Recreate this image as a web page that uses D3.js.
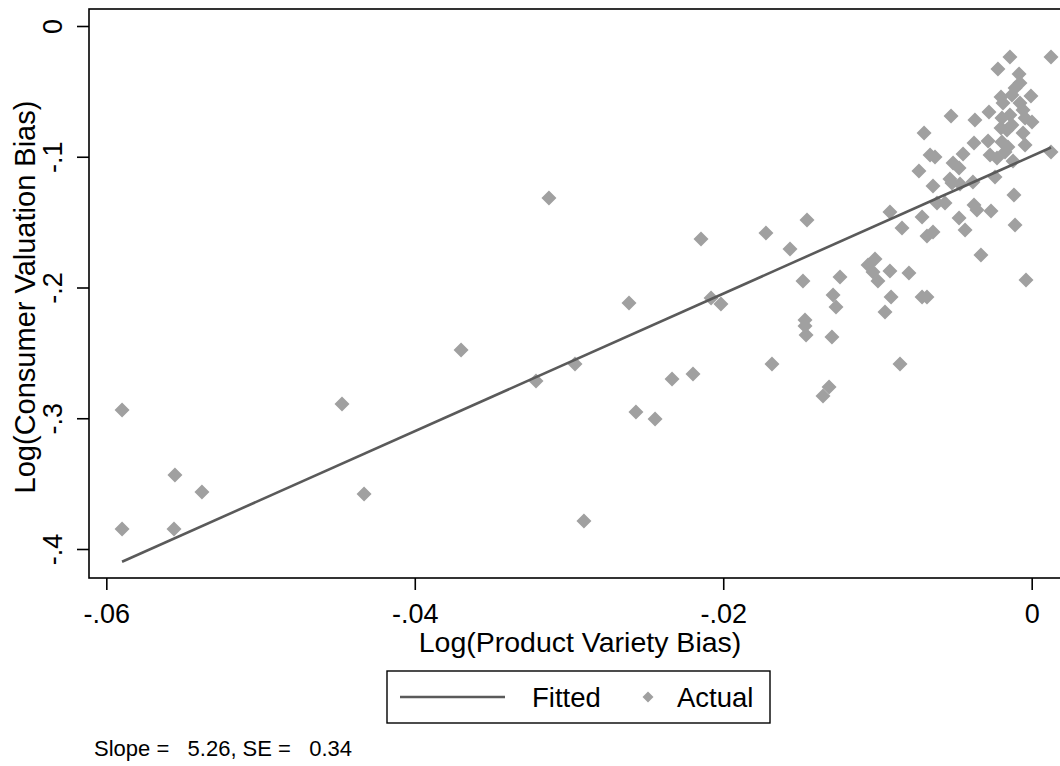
<!DOCTYPE html>
<html>
<head>
<meta charset="utf-8">
<script src="https://cdn.jsdelivr.net/npm/d3@7/dist/d3.min.js"></script>
<style>
  html, body { margin: 0; padding: 0; background: #fff; }
  svg { display: block; font-family: "Liberation Sans", Arial, Helvetica, sans-serif; }
</style>
</head>
<body>
<svg id="chart" width="1060" height="766"></svg>
<script>
// ---- data ----
const productVarietyBias = [
  -0.05898, -0.05898, -0.05555, -0.05561, -0.05380, -0.04472, -0.04329, -0.03700, -0.03214, -0.03130,
  -0.02961, -0.02903, -0.02566, -0.02442, -0.02611, -0.02332, -0.02196, -0.02144, -0.02079, -0.02015,
  -0.01723, -0.01684, -0.01567, -0.01457, -0.01483, -0.01470, -0.01470, -0.01463, -0.01295, -0.01243,
  -0.01288, -0.01269, -0.01314, -0.01353, -0.01061, -0.01016, -0.01029, -0.00997, -0.00919, -0.00912,
  -0.00951, -0.00919, -0.00854, -0.00841, -0.00731, -0.00711, -0.00796, -0.00711, -0.00679, -0.00679,
  -0.00640, -0.00640, -0.00614, -0.00562, -0.00530, -0.00517, -0.00471, -0.00432, -0.00465, -0.00381,
  -0.00374, -0.00355, -0.00264, -0.00238, -0.00329, -0.00115, -0.00108, -0.00037, -0.00659, -0.00627,
  -0.00445, -0.00510, -0.00471, -0.00270, -0.00225, -0.00173, -0.00121, 0.00125, -0.00698, -0.00523,
  -0.00368, -0.00374, -0.00283, -0.00141, 0.00125, -0.00219, -0.00082, -0.00108, -0.00076, -0.00005,
  -0.00199, -0.00186, -0.00128, -0.00076, -0.00277, -0.00056, -0.00193, -0.00141, 0.00002, -0.00128,
  -0.00199, -0.00160, -0.00056, -0.00193, -0.00154, -0.00043, -0.00043
];
const consumerValuationBias = [
  -0.2937, -0.3847, -0.3434, -0.3847, -0.3564, -0.2891, -0.3579, -0.2478, -0.2715, -0.1315,
  -0.2585, -0.3786, -0.2952, -0.3006, -0.2119, -0.2700, -0.2662, -0.1629, -0.2080, -0.2126,
  -0.1583, -0.2585, -0.1706, -0.1484, -0.1950, -0.2249, -0.2294, -0.2363, -0.2379, -0.1920,
  -0.2057, -0.2149, -0.2761, -0.2830, -0.1828, -0.1782, -0.1881, -0.1950, -0.1874, -0.2073,
  -0.2187, -0.1423, -0.2585, -0.1545, -0.1109, -0.1461, -0.1889, -0.2073, -0.2073, -0.1606,
  -0.1576, -0.1224, -0.1354, -0.1354, -0.1170, -0.1201, -0.1468, -0.1560, -0.1208, -0.1193,
  -0.1369, -0.1407, -0.1415, -0.1155, -0.1751, -0.1293, -0.1522, -0.1943, -0.0987, -0.1002,
  -0.0979, -0.1048, -0.1086, -0.0987, -0.1010, -0.0964, -0.1033, -0.0964, -0.0818, -0.0688,
  -0.0719, -0.0895, -0.0880, -0.0237, -0.0237, -0.0329, -0.0367, -0.0474, -0.0436, -0.0535,
  -0.0543, -0.0589, -0.0528, -0.0589, -0.0658, -0.0642, -0.0704, -0.0681, -0.0734, -0.0757,
  -0.0780, -0.0795, -0.0818, -0.0887, -0.0925, -0.0910, -0.0704
];
const fitSlope = [5.26];
const fitIntercept = [-0.0995];
const xTickValues = [-0.06, -0.04, -0.02, 0];
const xTickLabels = ["-.06", "-.04", "-.02", "0"];
const yTickValues = [0, -0.1, -0.2, -0.3, -0.4];
const yTickLabels = ["0", "-.1", "-.2", "-.3", "-.4"];
const legendLabels = ["Fitted", "Actual"];
const noteText = "Slope =   5.26, SE =   0.34";
const xTitle = "Log(Product Variety Bias)";
const yTitle = "Log(Consumer Valuation Bias)";

// ---- layout ----
const L = 89, T = 9, R = 1062, B = 578;
const svg = d3.select("#chart");
const x = d3.scaleLinear().domain([-0.061123, 0.001965]).range([L, R]);
const y = d3.scaleLinear().domain([-0.42218, 0.013002]).range([B, T]);

const pts = productVarietyBias.map((v, i) => ({ x: v, y: consumerValuationBias[i] }));

// frame
svg.append("rect").attr("x", L).attr("y", T).attr("width", R - L).attr("height", B - T)
  .attr("fill", "#fff").attr("stroke", "#000").attr("stroke-width", 1.6);

// fitted line
const xExt = d3.extent(productVarietyBias);
const fitData = xExt.map(v => ({ x: v, y: fitIntercept[0] + fitSlope[0] * v }));
const line = d3.line().x(d => x(d.x)).y(d => y(d.y));

// points (diamonds)
const h = 7.5;
const diamond = (cx, cy, r) => `M${cx},${cy - r}L${cx + r},${cy}L${cx},${cy + r}L${cx - r},${cy}Z`;
svg.append("g").selectAll("path").data(pts).join("path")
  .attr("d", d => diamond(x(d.x), y(d.y), h))
  .attr("fill", "#a0a0a0");

svg.append("path").datum(fitData).attr("d", line)
  .attr("fill", "none").attr("stroke", "#5a5a5a").attr("stroke-width", 2.6);

// x axis
const xAxis = d3.axisBottom(x).tickValues(xTickValues)
  .tickFormat((d, i) => xTickLabels[i]).tickSize(12).tickSizeOuter(0).tickPadding(14);
const gx = svg.append("g").attr("transform", `translate(0,${B})`).call(xAxis);
gx.select(".domain").remove();
gx.selectAll("line").attr("stroke", "#000").attr("stroke-width", 1.6);
gx.selectAll("text").attr("font-size", 27).attr("fill", "#000")
  .attr("font-family", "Liberation Sans, Arial, sans-serif");

// y axis
const yAxis = d3.axisLeft(y).tickValues(yTickValues)
  .tickFormat((d, i) => yTickLabels[i]).tickSize(12).tickSizeOuter(0);
const gy = svg.append("g").attr("transform", `translate(${L},0)`).call(yAxis);
gy.select(".domain").remove();
gy.selectAll("line").attr("stroke", "#000").attr("stroke-width", 1.6);
gy.selectAll("text")
  .attr("x", null).attr("dy", null)
  .attr("transform", "translate(-27,0) rotate(-90)")
  .attr("text-anchor", "middle")
  .attr("font-size", 27).attr("fill", "#000")
  .attr("font-family", "Liberation Sans, Arial, sans-serif");

// axis titles
svg.append("text").attr("x", 580).attr("y", 652)
  .attr("text-anchor", "middle").attr("font-size", 28.5).text(xTitle);
svg.append("text").attr("transform", `translate(35,297) rotate(-90)`)
  .attr("text-anchor", "middle").attr("font-size", 29).text(yTitle);

// legend
const lg = svg.append("g");
lg.append("rect").attr("x", 387).attr("y", 671).attr("width", 383).attr("height", 52)
  .attr("fill", "#fff").attr("stroke", "#000").attr("stroke-width", 1.4);
lg.append("line").attr("x1", 400).attr("x2", 505).attr("y1", 697).attr("y2", 697)
  .attr("stroke", "#5a5a5a").attr("stroke-width", 2.6);
lg.append("text").attr("x", 532).attr("y", 707).attr("font-size", 27.5).text(legendLabels[0]);
lg.append("path").attr("d", diamond(648, 697, 5.5)).attr("fill", "#a0a0a0");
lg.append("text").attr("x", 677).attr("y", 707).attr("font-size", 27.5).text(legendLabels[1]);

// note
svg.append("text").attr("x", 94).attr("y", 756).attr("font-size", 22)
  .attr("xml:space", "preserve").style("white-space", "pre").text(noteText);
</script>
</body>
</html>
